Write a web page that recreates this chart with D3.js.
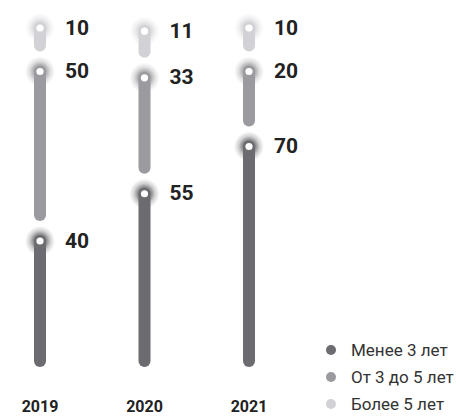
<!DOCTYPE html>
<html><head><meta charset="utf-8">
<script src="https://cdn.jsdelivr.net/npm/d3@7/dist/d3.min.js"></script>
<style>html,body{margin:0;padding:0;background:#fff;}svg{display:block;}</style>
</head><body>
<script>
const years = ["2019", "2020", "2021"];
const seriesNames = ["Менее 3 лет", "От 3 до 5 лет", "Более 5 лет"];
const lessThan3 = [40, 55, 70];
const from3to5 = [50, 33, 20];
const moreThan5 = [10, 11, 10];
const colors = ["#6b6b70", "#9a9a9f", "#d2d2d6"];

const W = 456, H = 417;
const svg = d3.select("body").append("svg").attr("width", W).attr("height", H);
const defs = svg.append("defs");
colors.forEach((c, i) => {
  const g = defs.append("radialGradient").attr("id", "glow" + i);
  g.append("stop").attr("offset", "0%").attr("stop-color", c).attr("stop-opacity", 1);
  g.append("stop").attr("offset", "40%").attr("stop-color", c).attr("stop-opacity", 0.85);
  g.append("stop").attr("offset", "70%").attr("stop-color", c).attr("stop-opacity", 0.3);
  g.append("stop").attr("offset", "100%").attr("stop-color", c).attr("stop-opacity", 0);
});

const x = d3.scalePoint().domain(years).range([40, 249]);
const bottom = 367, step = 12, gap = 20, barW = 12, cap = barW / 2;
const y = d3.scaleLinear().domain([0, 100]).range([bottom, 52]);

const seriesVals = [lessThan3, from3to5, moreThan5];

years.forEach((yr, j) => {
  const g = svg.append("g");
  const marks = [];
  let cum = 0;
  seriesVals.forEach((vals, i) => {
    const v = vals[j];
    cum += v;
    const top = y(cum) - step * i;
    const end = i === 0 ? bottom : marks[i - 1].top - gap;
    marks.push({i, v, top, end});
  });
  marks.forEach(m => {
    g.append("line")
      .attr("x1", x(yr)).attr("x2", x(yr))
      .attr("y1", m.top).attr("y2", m.end - cap)
      .attr("stroke", colors[m.i]).attr("stroke-width", barW)
      .attr("stroke-linecap", "round");
  });
  marks.forEach(m => {
    g.append("circle").attr("cx", x(yr)).attr("cy", m.top).attr("r", 15)
      .attr("fill", `url(#glow${m.i})`);
    g.append("circle").attr("cx", x(yr)).attr("cy", m.top).attr("r", 3.6)
      .attr("fill", "#fff");
    g.append("text").attr("x", x(yr) + 25).attr("y", m.top + 6.5)
      .attr("font-family", "Roboto, sans-serif").attr("font-weight", 700)
      .attr("font-size", 21).attr("fill", "#222").text(m.v);
  });
  svg.append("text").attr("x", x(yr)).attr("y", 412).attr("text-anchor", "middle")
    .attr("font-family", "Roboto, sans-serif").attr("font-weight", 700)
    .attr("font-size", 16).attr("fill", "#222").text(yr);
});

const legend = svg.append("g");
const ly = d3.scalePoint().domain(seriesNames).range([350, 404]);
seriesNames.forEach((n, i) => {
  legend.append("circle").attr("cx", 331).attr("cy", ly(n)).attr("r", 5).attr("fill", colors[i]);
  legend.append("text").attr("x", 351).attr("y", ly(n) + 6)
    .attr("font-family", "Roboto, sans-serif").attr("font-size", 17)
    .attr("fill", "#333").text(n);
});
</script>
</body></html>
